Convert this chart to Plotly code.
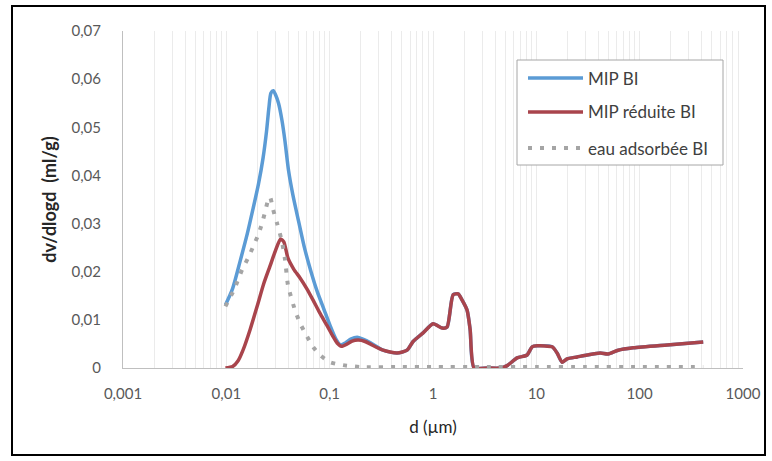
import plotly.graph_objects as go

# ---- data ----
d_mip = [0.0098, 0.0115, 0.0136, 0.0160, 0.0181, 0.0205, 0.0227, 0.0245, 0.0258, 0.0270,
         0.0285, 0.0300, 0.0320, 0.0345, 0.0370, 0.0400, 0.0440, 0.0500, 0.0570, 0.0660,
         0.0760, 0.0880, 0.1010, 0.1150, 0.1270, 0.1420, 0.1600, 0.1850, 0.2100, 0.2460,
         0.3288, 0.4490, 0.5613, 0.6415, 0.8017, 1.002, 1.225, 1.368, 1.566, 1.750,
         1.914, 2.138, 2.287, 2.500, 3.342, 4.463, 5.216, 6.515, 8.143, 9.10,
         10.18, 14.22, 15.89, 17.77, 19.86, 24.83, 31.04, 41.47, 49.59, 61.95,
         86.5, 184.5, 412.0]
v_mip = [0.0131, 0.0165, 0.0222, 0.0280, 0.0330, 0.0383, 0.0437, 0.0492, 0.0540, 0.0571,
         0.0576, 0.0567, 0.0550, 0.0515, 0.0470, 0.0410, 0.0360, 0.0305, 0.0250, 0.0200,
         0.0158, 0.0122, 0.0088, 0.0060, 0.0048, 0.0052, 0.0060, 0.0064, 0.0060, 0.0053,
         0.0037, 0.0031, 0.0037, 0.0055, 0.0073, 0.0092, 0.0083, 0.0085, 0.0152, 0.0154,
         0.0141, 0.0120, 0.0080, 0.0000, 0.0000, 0.0000, 0.0005, 0.0021, 0.0027, 0.0044,
         0.0046, 0.0044, 0.0031, 0.0012, 0.0019, 0.0023, 0.0027, 0.0031, 0.0029, 0.0037,
         0.0042, 0.0048, 0.0054]

d_red = [0.0098, 0.0115, 0.0130, 0.0145, 0.0170, 0.0198, 0.0230, 0.0265, 0.0300, 0.0335,
         0.0360, 0.0395, 0.0450, 0.0517, 0.0600, 0.0691, 0.0800, 0.0944, 0.1080, 0.1180,
         0.1300, 0.1480, 0.1650, 0.1900, 0.2200, 0.2460,
         0.3288, 0.4490, 0.5613, 0.6415, 0.8017, 1.002, 1.225, 1.368, 1.566, 1.750,
         1.914, 2.138, 2.287, 2.500, 3.342, 4.463, 5.216, 6.515, 8.143, 9.10,
         10.18, 14.22, 15.89, 17.77, 19.86, 24.83, 31.04, 41.47, 49.59, 61.95,
         86.5, 184.5, 412.0]
v_red = [0.0000, 0.0003, 0.0015, 0.0037, 0.0080, 0.0127, 0.0175, 0.0212, 0.0245, 0.0268,
         0.0262, 0.0228, 0.0205, 0.0187, 0.0165, 0.0141, 0.0115, 0.0088, 0.0065, 0.0052,
         0.0045, 0.0050, 0.0056, 0.0058, 0.0055, 0.0050,
         0.0037, 0.0031, 0.0037, 0.0055, 0.0073, 0.0092, 0.0083, 0.0085, 0.0152, 0.0154,
         0.0141, 0.0120, 0.0080, 0.0000, 0.0000, 0.0000, 0.0005, 0.0021, 0.0027, 0.0044,
         0.0046, 0.0044, 0.0031, 0.0012, 0.0019, 0.0023, 0.0027, 0.0031, 0.0029, 0.0037,
         0.0042, 0.0048, 0.0054]

d_eau = [0.0098, 0.0120, 0.0142, 0.0162, 0.0181, 0.0203, 0.0222, 0.0237, 0.0254, 0.0265,
         0.0283, 0.0310, 0.0346, 0.0370, 0.0395, 0.0462, 0.0517, 0.0591, 0.0691, 0.0807,
         0.1009, 0.1349, 0.2000, 0.5000, 1.000, 3.000, 10.00, 30.00, 100.0, 412.0]
v_eau = [0.0128, 0.0165, 0.0204, 0.0228, 0.0251, 0.0276, 0.0301, 0.0324, 0.0349, 0.0355,
         0.0330, 0.0300, 0.0262, 0.0225, 0.0172, 0.0120, 0.0093, 0.0069, 0.0044, 0.0027,
         0.0012, 0.0006, 0.0002, 0.0002, 0.0002, 0.0002, 0.0002, 0.0002, 0.0002, 0.0002]

series_names = ["MIP BI", "MIP réduite BI", "eau adsorbée BI"]
x_major = [0.001, 0.01, 0.1, 1, 10, 100, 1000]
x_major_text = ["0,001", "0,01", "0,1", "1", "10", "100", "1000"]
y_ticks = [0, 0.01, 0.02, 0.03, 0.04, 0.05, 0.06, 0.07]
y_tick_text = ["0", "0,01", "0,02", "0,03", "0,04", "0,05", "0,06", "0,07"]

# ---- styling ----
BLUE = "#5b9bd5"
RED = "#a9444c"
GRAY = "#a5a5a5"
FONT = "Lato"
DOTS = "4px,8px"

# gridline positions: every 1..9 x 10^k within the range
grid_vals, grid_text = [], []
for k in range(-3, 3):
    for m in range(1, 10):
        v = m * 10.0 ** k
        grid_vals.append(v)
        grid_text.append(x_major_text[k + 3] if m == 1 else "")
grid_vals.append(1000.0)
grid_text.append(x_major_text[-1])

fig = go.Figure()
fig.add_trace(go.Scatter(x=d_mip, y=v_mip, mode="lines", name=series_names[0],
                         line=dict(color=BLUE, width=3.5, shape="spline", smoothing=0.7)))
fig.add_trace(go.Scatter(x=d_red, y=v_red, mode="lines", name=series_names[1],
                         line=dict(color=RED, width=3.5, shape="spline", smoothing=0.6)))
fig.add_trace(go.Scatter(x=d_eau, y=v_eau, mode="lines", name=series_names[2],
                         line=dict(color=GRAY, width=4, dash=DOTS, shape="spline", smoothing=0.6)))

L, R, T, B = 123, 29, 31, 93
W, H = 772, 461
pw, ph = W - L - R, H - T - B

def px(x):
    return (x - L) / pw

def py(y):
    return (H - B - y) / ph

shapes = [
    # outer border
    dict(type="rect", xref="paper", yref="paper", x0=px(12), x1=px(765), y0=py(455), y1=py(6),
         line=dict(color="#000000", width=2), fillcolor="rgba(0,0,0,0)", layer="above"),
    # legend box
    dict(type="rect", xref="paper", yref="paper", x0=px(517), x1=px(723), y0=py(165), y1=py(60),
         line=dict(color="#a6a6a6", width=1), fillcolor="white", layer="above"),
]
annotations = []
rows = [78, 112, 148]
colors = [BLUE, RED, GRAY]
dashes = ["solid", "solid", DOTS]
widths = [3.5, 3.5, 4]
for i in range(3):
    shapes.append(dict(type="line", xref="paper", yref="paper", x0=px(528), x1=px(583),
                       y0=py(rows[i]), y1=py(rows[i]),
                       line=dict(color=colors[i], width=widths[i], dash=dashes[i]), layer="above"))
    annotations.append(dict(xref="paper", yref="paper", x=px(586), y=py(rows[i]),
                            text=series_names[i], showarrow=False, xanchor="left", yanchor="middle",
                            font=dict(family=FONT, size=17, color="#404040")))

fig.update_layout(
    width=W, height=H,
    margin=dict(l=L, r=R, t=T, b=B),
    paper_bgcolor="white", plot_bgcolor="white",
    showlegend=False,
    shapes=shapes, annotations=annotations,
    font=dict(family=FONT, color="#595959"),
)
fig.update_xaxes(
    type="log", range=[-3, 3],
    tickmode="array", tickvals=grid_vals, ticktext=grid_text,
    showgrid=True, gridcolor="#ebebeb", gridwidth=1,
    showline=True, linecolor="#bfbfbf", linewidth=1,
    ticks="", ticklabelstandoff=12,
    tickfont=dict(family=FONT, size=15, color="#595959"),
    title=dict(text="d (µm)", font=dict(family=FONT, size=17, color="#262626"), standoff=20),
)
fig.update_yaxes(
    range=[0, 0.07],
    tickmode="array", tickvals=y_ticks, ticktext=y_tick_text,
    showgrid=False, zeroline=False,
    showline=True, linecolor="#bfbfbf", linewidth=1,
    ticks="", ticklabelstandoff=18,
    tickfont=dict(family=FONT, size=15, color="#595959"),
    title=dict(text="<b>dv/dlogd  (ml/g)</b>", font=dict(family=FONT, size=18, color="#262626"), standoff=10),
)

fig.write_html("out.html")
